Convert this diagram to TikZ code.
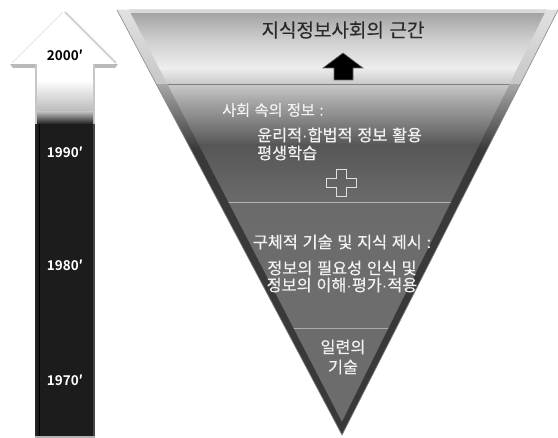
\documentclass[tikz,border=0pt]{standalone}
\usepackage{fontspec}
\setmainfont{Noto Sans CJK KR}[BoldFont={Noto Sans CJK KR Bold}, WordSpace=1.3]
\newfontfamily\dotfont{Liberation Sans}
\newcommand{\mdot}{{\dotfont ·}}
\definecolor{shaftdark}{HTML}{1C1C1C}
\definecolor{bandline}{HTML}{B4B4B4}
\definecolor{bandmid}{HTML}{6C6C6C}
\definecolor{titlecol}{HTML}{2A2A2A}
\definecolor{lighttext}{HTML}{F2F2F2}
\definecolor{bevdark}{HTML}{393939}
\tikzset{
  yearlbl/.style={font=\fontsize{13.5}{15}\selectfont\bfseries, inner sep=0pt},
  bandtxt/.style={font=\fontsize{16.3}{18}\selectfont\addfontfeatures{FakeBold=0.4}, text=lighttext, inner sep=0pt},
  headtxt/.style={font=\fontsize{15.2}{17}\selectfont\addfontfeatures{FakeBold=0.4}, text=lighttext, inner sep=0pt},
  titletxt/.style={font=\fontsize{19}{21}\selectfont\addfontfeatures{FakeBold=0.4}, text=titlecol, inner sep=0pt}
}
\begin{document}
\begin{tikzpicture}[x=1pt,y=-1pt]
\useasboundingbox (0,0) rectangle (558,438);
\fill[white] (0,0) rectangle (558,438);

% ---------- left timeline arrow ----------
\coordinate (htip) at (64,10);
\coordinate (hl) at (10,64);
\coordinate (hr) at (118,64);
% head base bevel
\fill[gray!55] (hl) -- (hr) -- (115,68) -- (13,68) -- cycle;
% head
\fill[white] (htip) -- (hr) -- (hl) -- cycle;
\draw[gray!35, line width=2pt] (65,12) -- (116,63);
\draw[gray!20, line width=1pt] (63,12) -- (12,63);
% shaft
\fill[gray!45] (35,64) rectangle (95,438);
\fill[white] (37,64) rectangle (93,80);
\shade[top color=white, bottom color=gray!55] (37,80) rectangle (93,112);
\shade[top color=gray!55, bottom color=gray!25!black] (37,112) rectangle (93,124);
\fill[shaftdark] (37,124) rectangle (93,436);
\fill[black!85] (35,124) rectangle (37,436);
\fill[black!72] (93,124) rectangle (95,436);
\fill[black] (39,124) rectangle (40,436);
\fill[gray!60] (35,436) rectangle (95,438);

\node[yearlbl, text=black] (y2000) at (65,55) {2000′};
\node[yearlbl, text=white] (y1990) at (65,152) {1990′};
\node[yearlbl, text=white] (y1980) at (65,265) {1980′};
\node[yearlbl, text=white] (y1970) at (65,380) {1970′};

% ---------- inverted triangle ----------
\coordinate (TL) at (117,10);
\coordinate (TR) at (558,10);
\coordinate (TP) at (342,435);
\begin{scope}
  \clip (TL) -- (TR) -- (TP) -- cycle;
  % band 1
  \fill[gray!30] (100,8) rectangle (560,14);
  \shade[top color=black!35, bottom color=black!19] (100,14) rectangle (560,40);
  \shade[top color=black!19, bottom color=black!7] (100,40) rectangle (560,68);
  \shade[top color=black!7, bottom color=black!22] (100,68) rectangle (560,85);
  % band 2
  \shade[top color=black!22, bottom color=black!34] (100,85) rectangle (560,100);
  \shade[top color=black!34, bottom color=black!66] (100,100) rectangle (560,145);
  \shade[top color=black!66, bottom color=black!58] (100,145) rectangle (560,203);
  % band 3 and 4
  \shade[top color=black!58, bottom color=black!57] (100,203) rectangle (560,328);
  \fill[bandmid] (100,328) rectangle (560,440);
  % separators
  \draw[black!50, line width=1pt] (100,85) -- (560,85);
  \draw[bandline, line width=1pt] (100,203) -- (560,203);
  \draw[black!33, line width=0.8pt] (100,328) -- (560,328);
\end{scope}
% side bevels
\begin{scope}[even odd rule]
  \clip (TL) -- (TR) -- (TP) -- cycle
        (123.8,0) -- (551.3,0) -- (341.9,422) -- cycle;
  \shade[top color=black!12, bottom color=black!22] (100,10) rectangle (560,85);
  \shade[top color=black!35, bottom color=black!78] (100,85) rectangle (560,150);
  \fill[bevdark] (100,150) rectangle (560,440);
\end{scope}
\draw[black!45, line width=0.6pt] (TL) -- (TP) -- (TR);

% title and arrow
\node[titletxt] (title) at (343,30) {지식정보사회의 근간};
\draw[fill=black, draw=black!60, line width=0.6pt]
  (343,53) -- (363,68) -- (353,68) -- (353,80) -- (334,80) -- (334,68) -- (323,68) -- cycle;

% band 2 texts
\node[headtxt, anchor=west] (b2a) at (222,110) {사회 속의 정보 :};
\node[bandtxt, anchor=west] (b2b) at (257,135) {윤리적\mdot 합법적 정보 활용};
\node[bandtxt, anchor=west] (b2c) at (257,153) {평생학습};
\draw[black!12, line width=0.9pt]
  (336,169) -- (346,169) -- (346,178) -- (356,178) -- (356,187) -- (346,187) --
  (346,196) -- (336,196) -- (336,187) -- (326,187) -- (326,178) -- (336,178) -- cycle;

% band 3 texts
\node[bandtxt] (b3a) at (342,242) {구체적 기술 및 지식 제시 :};
\node[bandtxt] (b3b) at (342,268) {정보의 필요성 인식 및};
\node[bandtxt] (b3c) at (342,285) {정보의 이해\mdot 평가\mdot 적용};

% band 4 texts
\node[bandtxt] (b4a) at (343,347) {일련의};
\node[bandtxt] (b4b) at (343,367) {기술};
\end{tikzpicture}
\end{document}
